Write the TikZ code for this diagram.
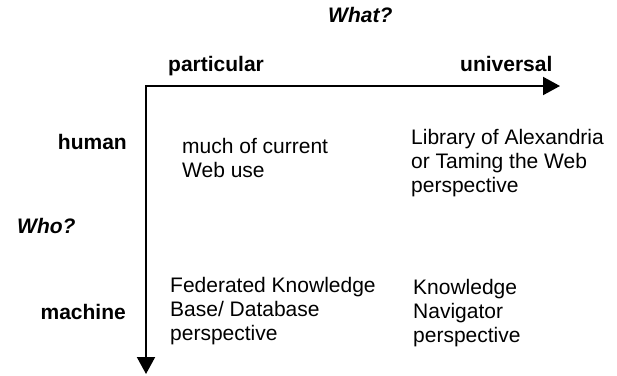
\documentclass[tikz,border=0pt]{standalone}
\usepackage{fontspec}
\setmainfont{Liberation Sans}
\usetikzlibrary{arrows.meta}
\begin{document}
\begin{tikzpicture}[x=1pt,y=-1pt,
  axis/.style={line width=2pt,{Triangle[length=17pt,width=18pt]}-{Triangle[length=17pt,width=18pt]}},
  axislabel/.style={font=\fontsize{21}{24}\selectfont\bfseries,inner sep=0pt},
  question/.style={font=\fontsize{21}{24}\selectfont\bfseries\itshape,inner sep=0pt},
  cell/.style={font=\fontsize{21}{24}\selectfont,align=left,inner sep=0pt,anchor=base west}]
  \useasboundingbox (0,0) rectangle (617,375);

  % axes: "Who?" downwards, "What?" to the right
  \coordinate (origin) at (146,86);
  \coordinate (xend) at (560,86);
  \coordinate (yend) at (146,374);
  \draw[axis] (yend) |- (xend);

  % titles of the axes
  \node[question,anchor=base west] (what) at (328,22) {What?};
  \node[question,anchor=base west] (who) at (17,233) {Who?};

  % column heads
  \node[axislabel,anchor=base west] (particular) at (168,71) {particular};
  \node[axislabel,anchor=base west] (universal) at (460,71) {universal};

  % row heads
  \node[axislabel,anchor=base east] (human) at (127,149) {human};
  \node[axislabel,anchor=base east] (machine) at (126,319) {machine};

  % the four cells (base anchor sits on the last line)
  \node[cell] (hp) at (182,177.5) {much of current\\Web use};
  \node[cell] (hu) at (411,192.5) {Library of Alexandria\\or Taming the Web\\perspective};
  \node[cell] (mp) at (170,340.5) {Federated Knowledge\\Base/ Database\\perspective};
  \node[cell] (mu) at (413,342.5) {Knowledge\\Navigator\\perspective};
\end{tikzpicture}
\end{document}
